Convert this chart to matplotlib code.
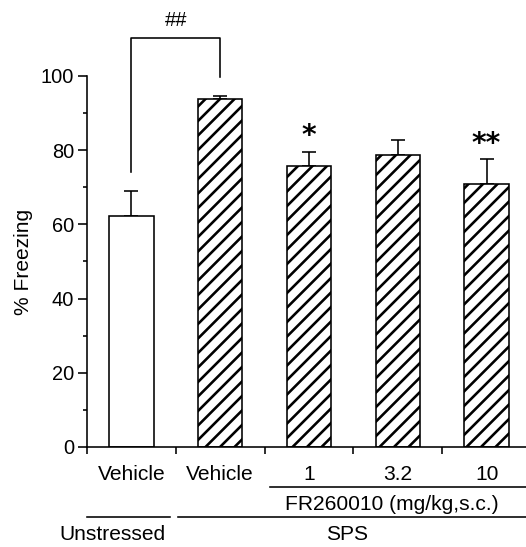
import matplotlib
matplotlib.use("Agg")
import matplotlib.pyplot as plt
import matplotlib.transforms as mtransforms
import numpy as np

DPI = 87.5
def pt(px):
    return px * 72.0 / DPI

plt.rcParams['font.family'] = ['Liberation Sans', 'DejaVu Sans']
plt.rcParams['hatch.linewidth'] = pt(2.6)

categories = ["Vehicle", "Vehicle", "1", "3.2", "10"]
values = [62.3, 93.8, 75.8, 78.6, 71.0]
errors = [6.8, 0.7, 3.8, 4.1, 6.5]
hatches = ["", "//", "//", "//", "//"]
stars = ["", "", "*", "", "**"]

fig = plt.figure(figsize=(526 / DPI, 547 / DPI), dpi=DPI)
ax = fig.add_axes([87/526, 1-447/547, 444/526, (447-76)/547])
x = np.arange(len(categories))
LW = pt(1.6)
for i in x:
    ax.bar(i, values[i], width=0.5, color='white', edgecolor='black',
           linewidth=LW, hatch=hatches[i], zorder=2)
ax.errorbar(x, values, yerr=[np.zeros(len(x)), errors], fmt='none',
            ecolor='black', elinewidth=LW, capsize=pt(7), capthick=LW, zorder=1)

ax.set_xlim(-0.5, 4.5)
ax.set_ylim(0, 100)
ax.spines['top'].set_visible(False)
ax.spines['right'].set_visible(False)
ax.spines['left'].set_linewidth(LW)
ax.spines['bottom'].set_linewidth(LW)
ax.set_yticks([0, 20, 40, 60, 80, 100])
ax.set_yticks([10, 30, 50, 70, 90], minor=True)
ax.set_xticks(np.arange(-0.5, 5, 1))
ax.set_xticklabels([])
ax.tick_params(axis='y', which='major', length=pt(9), width=LW, labelsize=pt(20), pad=pt(4))
ax.tick_params(axis='y', which='minor', length=pt(4), width=LW)
ax.tick_params(axis='x', which='major', length=pt(7), width=LW, direction='out')
ax.set_ylabel("% Freezing", fontsize=pt(21), labelpad=pt(8))

fpx = lambda py: 1 - py / 547
fx = lambda px: px / 526
trans = mtransforms.blended_transform_factory(ax.transData, fig.transFigure)

# category labels
for i, c in enumerate(categories):
    ax.text(i, fpx(474), c, transform=trans, ha='center', va='center', fontsize=pt(21))

# significance stars
for i, s in enumerate(stars):
    if s:
        ax.text(i, values[i] + errors[i] + 0.5, s, ha='center', va='bottom',
                fontsize=pt(28), fontweight='bold', family='DejaVu Sans')

# bracket
ax.plot([0, 0, 1, 1], [74, 110.2, 110.2, 99.6], color='black', lw=LW,
        clip_on=False)
ax.text(0.5, 115, "##", ha='center', va='center', fontsize=pt(20))

# group lines under axis
fig.add_artist(plt.Line2D([fx(270), fx(526)], [fpx(486.5), fpx(486.5)], color='black', lw=LW))
fig.text(fx(392), fpx(504), "FR260010 (mg/kg,s.c.)", ha='center', va='center', fontsize=pt(21))
fig.add_artist(plt.Line2D([fx(87), fx(170)], [fpx(517), fpx(517)], color='black', lw=LW))
fig.add_artist(plt.Line2D([fx(178), fx(526)], [fpx(517), fpx(517)], color='black', lw=LW))
fig.text(fx(112), fpx(535), "Unstressed", ha='center', va='center', fontsize=pt(21))
fig.text(fx(347), fpx(535), "SPS", ha='center', va='center', fontsize=pt(21))

fig.savefig("out.png", dpi=DPI)
